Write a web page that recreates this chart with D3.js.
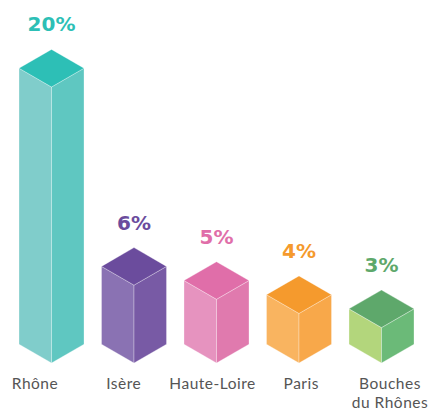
<!DOCTYPE html>
<html><head><meta charset="utf-8">
<script src="https://cdn.jsdelivr.net/npm/d3@7"></script>
<style>html,body{margin:0;padding:0;background:#fff;}</style>
</head><body>
<svg id="chart" width="438" height="412"></svg>
<script>
const categories = ["Rhône", "Isère", "Haute-Loire", "Paris", "Bouches du Rhônes"];
const values = [20, 6, 5, 4, 3];
const valueLabels = ["20%", "6%", "5%", "4%", "3%"];
const topColors = ["#2dbfb6", "#6b4c9d", "#e06ea9", "#f59a2d", "#5ea86b"];
const leftColors = ["#80cdcb", "#8a72b3", "#e693bf", "#f9b460", "#b3d67c"];
const rightColors = ["#5fc7c1", "#785aa5", "#e07aae", "#f8a84a", "#6bba78"];

const svg = d3.select("#chart");
const baseY = 363;
const x = d3.scaleBand().domain(categories).range([19, 414]).paddingInner(0.212).paddingOuter(0);
const w = x.bandwidth() / 2;
const d = w * Math.tan(Math.PI / 6);
const h = d3.scaleLinear().domain([0.5, 20]).range([0, 276]);
const lx = d3.scalePoint().domain(categories).range([35, 390]);

const g = svg.append("g");
categories.forEach((c, i) => {
  const cx = x(c) + w;
  const T = baseY - 2 * d - h(values[i]);
  const pts = a => a.map(p => p.join(",")).join(" ");
  const gg = g.append("g");
  gg.append("polygon").attr("points", pts([[cx - w, T + d], [cx, T + 2 * d], [cx, baseY], [cx - w, baseY - d]]))
    .attr("fill", leftColors[i]).attr("stroke", "#fff").attr("stroke-width", 0.5).attr("stroke-opacity", 0.6);
  gg.append("polygon").attr("points", pts([[cx, T + 2 * d], [cx + w, T + d], [cx + w, baseY - d], [cx, baseY]]))
    .attr("fill", rightColors[i]).attr("stroke", "#fff").attr("stroke-width", 0.5).attr("stroke-opacity", 0.6);
  gg.append("polygon").attr("points", pts([[cx, T], [cx + w, T + d], [cx, T + 2 * d], [cx - w, T + d]]))
    .attr("fill", topColors[i]).attr("stroke", "#fff").attr("stroke-width", 0.5).attr("stroke-opacity", 0.6);
  gg.append("text").attr("x", cx).attr("y", T - 18).attr("text-anchor", "middle")
    .attr("font-family", "DejaVu Sans").attr("font-weight", "bold").attr("font-size", 20)
    .attr("fill", topColors[i]).text(valueLabels[i]);

  const words = c === "Bouches du Rhônes" ? ["Bouches", "du Rhônes"] : [c];
  words.forEach((wd, j) => {
    g.append("text").attr("text-anchor", "middle")
      .attr("font-family", "Lato").attr("font-size", 15.5).attr("letter-spacing", 0.5).attr("fill", "#555")
      .attr("x", lx(c)).attr("y", 389 + j * 19).text(wd);
  });
});
</script>
</body></html>
